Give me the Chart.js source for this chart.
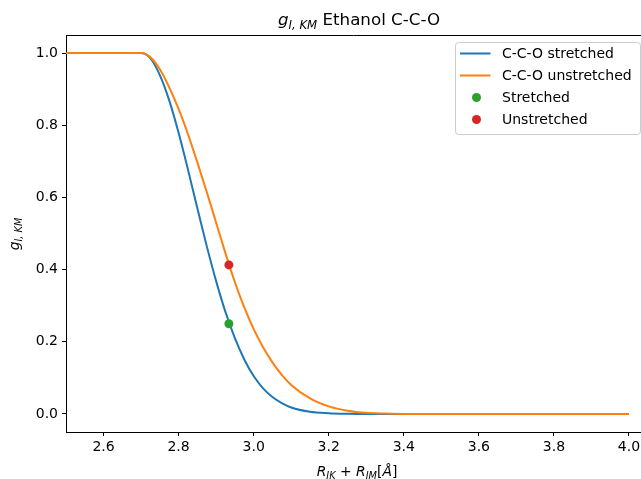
<!DOCTYPE html>
<html>
<head>
<meta charset="utf-8">
<script src="https://cdn.jsdelivr.net/npm/chart.js@4.4.1/dist/chart.umd.min.js"></script>
<style>
  body { margin: 0; background: #fff; }
  canvas { display: block; }
</style>
</head>
<body>
<canvas id="gChart" width="641" height="479"></canvas>
<script>
// values
const rValues = [2.5, 2.6, 2.7, 2.725, 2.75, 2.775, 2.8, 2.825, 2.85, 2.875, 2.9, 2.925, 2.95, 2.975,
  3.0, 3.025, 3.05, 3.075, 3.1, 3.15, 3.2, 3.25, 3.3, 3.35, 3.4, 3.5, 3.6, 3.7, 3.8, 3.9, 4.0];
const stretchedG = [1, 1, 1, 0.985, 0.939, 0.869, 0.779, 0.677, 0.570, 0.465, 0.368, 0.282, 0.210, 0.151,
  0.105, 0.071, 0.047, 0.030, 0.018, 0.006, 0.002, 0.0005, 0, 0, 0, 0, 0, 0, 0, 0, 0];
const unstretchedG = [1, 1, 1, 0.988, 0.955, 0.905, 0.845, 0.775, 0.697, 0.615, 0.530, 0.445, 0.365, 0.295,
  0.235, 0.185, 0.143, 0.108, 0.080, 0.043, 0.021, 0.009, 0.003, 0.001, 0, 0, 0, 0, 0, 0, 0];
const markerR = [2.934];
const stretchedMarker = [0.25];
const unstretchedMarker = [0.413];
const xTicks = [2.6, 2.8, 3.0, 3.2, 3.4, 3.6, 3.8, 4.0];
const yTicks = [0, 0.2, 0.4, 0.6, 0.8, 1.0];
const legendLabels = ['C-C-O stretched', 'C-C-O unstretched', 'Stretched', 'Unstretched'];

const FONT = "'DejaVu Sans', sans-serif";

function toPoints(xs, ys) {
    return xs.map((x, i) => ({ x: x, y: ys[i] }));
}

// draws text runs with italic / subscript parts (mimics mathtext)
function measureRuns(ctx, runs, size) {
    let w = 0;
    runs.forEach(r => {
        const s = r.sub ? size * 0.7 : size;
        ctx.font = (r.it ? 'italic ' : '') + s + 'px ' + FONT;
        w += ctx.measureText(r.t).width;
    });
    return w;
}
function drawRuns(ctx, runs, x, y, size) {
    let cx = x;
    runs.forEach(r => {
        const s = r.sub ? size * 0.7 : size;
        ctx.font = (r.it ? 'italic ' : '') + s + 'px ' + FONT;
        ctx.fillText(r.t, cx, r.sub ? y + size * 0.22 : y);
        cx += ctx.measureText(r.t).width;
    });
}

const decorPlugin = {
    id: 'decor',
    afterDraw(chart) {
        const ctx = chart.ctx;
        const a = chart.chartArea;
        ctx.save();
        // top spine
        ctx.strokeStyle = '#000';
        ctx.lineWidth = 1;
        ctx.beginPath();
        ctx.moveTo(a.left, a.top + 0.5);
        ctx.lineTo(chart.width, a.top + 0.5);
        ctx.stroke();

        ctx.fillStyle = '#000';
        ctx.textBaseline = 'alphabetic';
        ctx.textAlign = 'left';

        // title
        const title = [{ t: 'g', it: true }, { t: 'I, KM', it: true, sub: true }, { t: ' Ethanol C-C-O' }];
        let w = measureRuns(ctx, title, 16.7);
        drawRuns(ctx, title, 359 - w / 2, 25, 16.7);

        // x label
        const xl = [{ t: 'R', it: true }, { t: 'IK', it: true, sub: true }, { t: ' + ' },
            { t: 'R', it: true }, { t: 'IM', it: true, sub: true }, { t: '[' }, { t: 'Å', it: true }, { t: ']' }];
        w = measureRuns(ctx, xl, 13.9);
        drawRuns(ctx, xl, 357 - w / 2, 476, 13.9);

        // y label
        const yl = [{ t: 'g', it: true }, { t: 'I, KM', it: true, sub: true }];
        w = measureRuns(ctx, yl, 13.9);
        ctx.save();
        ctx.translate(19, 234);
        ctx.rotate(-Math.PI / 2);
        drawRuns(ctx, yl, -w / 2, 0, 13.9);
        ctx.restore();

        // legend
        const bx = 455.5, by = 42.5, bw = 185, bh = 92;
        ctx.beginPath();
        ctx.roundRect(bx, by, bw, bh, 3);
        ctx.fillStyle = 'rgba(255,255,255,0.8)';
        ctx.fill();
        ctx.strokeStyle = '#cccccc';
        ctx.stroke();
        const ds = chart.data.datasets;
        ctx.font = '14px ' + FONT;
        ctx.textBaseline = 'middle';
        [0, 1, 2, 3].forEach((k, i) => {
            const y = 53.5 + i * 22;
            const d = ds[k];
            if (d.showLine) {
                ctx.strokeStyle = d.borderColor;
                ctx.lineWidth = 2;
                ctx.beginPath();
                ctx.moveTo(460, y);
                ctx.lineTo(490.5, y);
                ctx.stroke();
            } else {
                ctx.fillStyle = d.pointBackgroundColor;
                ctx.beginPath();
                ctx.arc(476.5, y, 4.5, 0, Math.PI * 2);
                ctx.fill();
            }
            ctx.fillStyle = '#000';
            ctx.fillText(legendLabels[k], 502, y + 1);
        });
        ctx.restore();
    }
};

function drawChart() {
    const ctx = document.getElementById('gChart').getContext('2d');

    new Chart(ctx, {
        type: 'line',
        data: {
            datasets: [{
                label: legendLabels[0],
                data: toPoints(rValues, stretchedG),
                borderColor: '#1f77b4',
                borderWidth: 2,
                pointRadius: 0,
                showLine: true,
                cubicInterpolationMode: 'monotone',
                order: 3,
            }, {
                label: legendLabels[1],
                data: toPoints(rValues, unstretchedG),
                borderColor: '#ff7f0e',
                borderWidth: 2,
                pointRadius: 0,
                showLine: true,
                cubicInterpolationMode: 'monotone',
                order: 2,
            }, {
                label: legendLabels[2],
                data: toPoints(markerR, stretchedMarker),
                showLine: false,
                pointRadius: 4.5,
                pointBorderWidth: 0,
                pointBackgroundColor: '#2ca02c',
                pointBorderColor: '#2ca02c',
                order: 1,
            }, {
                label: legendLabels[3],
                data: toPoints(markerR, unstretchedMarker),
                showLine: false,
                pointRadius: 4.5,
                pointBorderWidth: 0,
                pointBackgroundColor: '#d62728',
                pointBorderColor: '#d62728',
                order: 0,
            }],
        },
        options: {
            responsive: false,
            animation: false,
            devicePixelRatio: 1,
            layout: { autoPadding: false, padding: { left: 0, right: 0, top: 35, bottom: 0 } },
            plugins: {
                legend: { display: false },
                tooltip: { enabled: false },
            },
            scales: {
                x: {
                    type: 'linear',
                    min: 2.5,
                    max: 4.032,
                    afterBuildTicks: s => { s.ticks = xTicks.map(v => ({ value: v })); },
                    afterFit: s => { s.height = 47; s.paddingLeft = 0; s.paddingRight = 0; },
                    ticks: {
                        callback: v => v.toFixed(1),
                        font: { family: FONT, size: 14 },
                        color: '#000',
                        padding: 3,
                        maxRotation: 0,
                        autoSkip: false,
                    },
                    grid: { drawOnChartArea: false, tickLength: 4, color: '#000' },
                    border: { color: '#000', width: 1 },
                },
                y: {
                    min: -0.05,
                    max: 1.05,
                    afterBuildTicks: s => { s.ticks = yTicks.map(v => ({ value: v })); },
                    afterFit: s => { s.width = 66; s.paddingTop = 0; s.paddingBottom = 0; },
                    ticks: {
                        callback: v => v.toFixed(1),
                        font: { family: FONT, size: 14 },
                        color: '#000',
                        padding: 4,
                    },
                    grid: { drawOnChartArea: false, tickLength: 4, color: '#000' },
                    border: { color: '#000', width: 1 },
                },
            },
        },
        plugins: [decorPlugin],
    });
}

drawChart();
</script>
</body>
</html>
